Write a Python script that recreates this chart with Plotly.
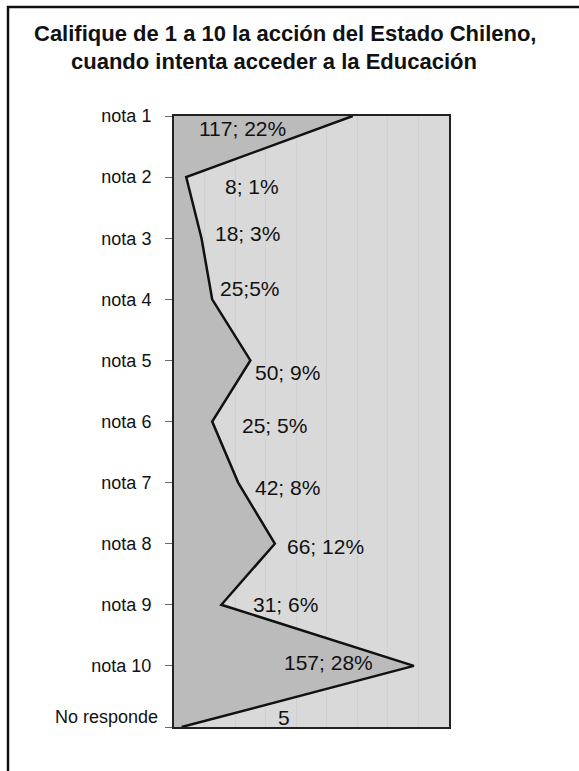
import plotly.graph_objects as go

# Survey answers: grade given to the State's action on access to education
categories = ["nota 1", "nota 2", "nota 3", "nota 4", "nota 5", "nota 6",
              "nota 7", "nota 8", "nota 9", "nota 10", "No responde"]
counts = [117, 8, 18, 25, 50, 25, 42, 66, 31, 157, 5]
percents = [22, 1, 3, 5, 9, 5, 8, 12, 6, 28, None]

title_lines = ["Califique de 1 a 10 la acción del Estado Chileno,",
               "cuando intenta acceder a la Educación"]

# label anchors: x in data units, y as an offset in category steps
label_x = [45, 51, 48, 50, 74, 66, 74, 99, 73, 101, 72]
label_dy = [0.2, 0.15, -0.07, -0.18, 0.2, 0.07, 0.08, 0.05, 0.0, -0.05, -0.16]
compact_sep = {3}  # labels written without a space after ';'

FONT = "Arial, Liberation Sans, sans-serif"
positions = list(range(len(categories)))

# plot area in pixels (used to place the frame and the title in paper units)
PL, PR, PT, PB = 174, 449, 116, 727
PW, PH = PR - PL, PB - PT


def px_x(px):
    return (px - PL) / PW


def px_y(py):
    return (PB - py) / PH


fig = go.Figure()
fig.add_trace(go.Scatter(
    x=counts, y=positions, mode="lines",
    fill="tozerox", fillcolor="#bbbbbb",
    line=dict(color="#111111", width=2.5),
    hoverinfo="skip", showlegend=False,
))

annotations = []
for i, (n, p) in enumerate(zip(counts, percents)):
    if p is None:
        txt = f"{n}"
    else:
        sep = ";" if i in compact_sep else "; "
        txt = f"{n}{sep}{p}%"
    annotations.append(dict(
        x=label_x[i], y=positions[i] + label_dy[i], xref="x", yref="y",
        text=txt, showarrow=False, xanchor="center", yanchor="middle",
        font=dict(family=FONT, size=21, color="#111111"),
    ))

# two-line chart title
for line, cx, cy in zip(title_lines, (285, 274), (33, 61)):
    annotations.append(dict(
        x=px_x(cx), y=px_y(cy), xref="paper", yref="paper",
        text=f"<b>{line}</b>", showarrow=False,
        xanchor="center", yanchor="middle",
        font=dict(family=FONT, size=22, color="#111111"),
    ))

# the last category name sits a little above its tick, clear of the corner
annotations.append(dict(
    x=px_x(160), y=px_y(717), xref="paper", yref="paper",
    text=categories[-1], showarrow=False,
    xanchor="right", yanchor="middle",
    font=dict(family=FONT, size=18, color="#111111"),
))
tick_text = categories[:-1] + [""]

fig.update_layout(
    width=579, height=771, autosize=False,
    margin=dict(l=PL, r=579 - PR, t=PT, b=771 - PB),
    paper_bgcolor="white", plot_bgcolor="#d9d9d9",
    font=dict(family=FONT, color="#111111"),
    annotations=annotations,
    shapes=[dict(
        type="rect", xref="paper", yref="paper",
        x0=px_x(8), x1=px_x(600), y0=px_y(800), y1=px_y(7),
        line=dict(color="#111111", width=2.5), fillcolor="rgba(0,0,0,0)",
        layer="below",
    )],
)

fig.update_xaxes(
    range=[0, 180], showticklabels=False, ticks="",
    showgrid=True, gridcolor="#d0d0d0", gridwidth=1, dtick=20,
    zeroline=False, showline=True, mirror=True,
    linecolor="#222222", linewidth=2,
)
fig.update_yaxes(
    range=[10, 0], tickmode="array", tickvals=positions, ticktext=tick_text,
    ticks="outside", ticklen=7, tickcolor="#666666", tickwidth=1,
    tickfont=dict(size=18, color="#111111"), ticklabelstandoff=10,
    showgrid=False, zeroline=False, showline=True, mirror=True,
    linecolor="#222222", linewidth=2,
)

fig.write_html("out.html")
